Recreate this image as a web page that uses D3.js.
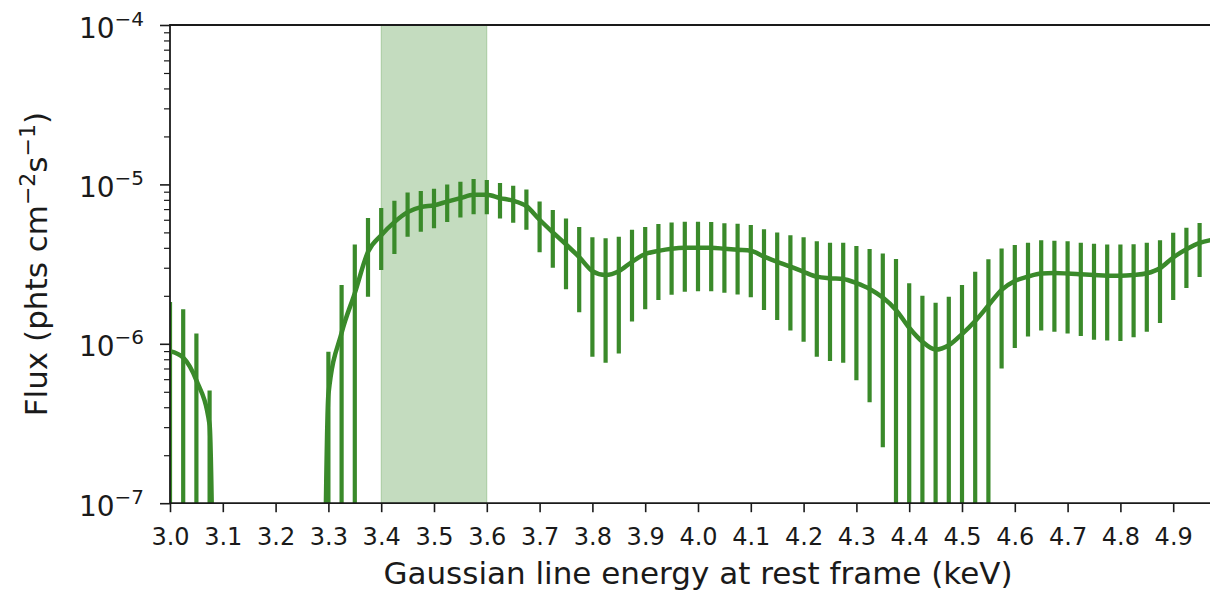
<!DOCTYPE html>
<html>
<head>
<meta charset="utf-8">
<script src="https://cdn.jsdelivr.net/npm/d3@7"></script>
<style>
  html, body { margin: 0; padding: 0; background: #fff; }
  svg { display: block; }
  text { font-family: "DejaVu Sans", sans-serif; fill: #1a1a1a; }
</style>
</head>
<body>
<svg id="chart" width="1210" height="593"></svg>
<script>
// Gaussian line energy grid (keV)
const energy = [
  3.000, 3.025, 3.050, 3.075, 3.100, 3.125, 3.150, 3.175, 3.200, 3.225,
  3.250, 3.275, 3.300, 3.325, 3.350, 3.375, 3.400, 3.425, 3.450, 3.475,
  3.500, 3.525, 3.550, 3.575, 3.600, 3.625, 3.650, 3.675, 3.700, 3.725,
  3.750, 3.775, 3.800, 3.825, 3.850, 3.875, 3.900, 3.925, 3.950, 3.975,
  4.000, 4.025, 4.050, 4.075, 4.100, 4.125, 4.150, 4.175, 4.200, 4.225,
  4.250, 4.275, 4.300, 4.325, 4.350, 4.375, 4.400, 4.425, 4.450, 4.475,
  4.500, 4.525, 4.550, 4.575, 4.600, 4.625, 4.650, 4.675, 4.700, 4.725,
  4.750, 4.775, 4.800, 4.825, 4.850, 4.875, 4.900, 4.925, 4.950, 4.975
];

// Best-fit line flux (phts cm^-2 s^-1); 0 = no positive flux
const flux = [
  9.0e-7, 8.2e-7, 5.9e-7, 3.1e-7, 0, 0, 0, 0, 0, 0,
  0, 0, 4.8e-7, 1.17e-6, 2.08e-6, 3.77e-6, 4.8e-6, 5.8e-6, 6.7e-6, 7.2e-6,
  7.4e-6, 7.8e-6, 8.2e-6, 8.6e-6, 8.6e-6, 8.2e-6, 7.9e-6, 7.3e-6, 6.0e-6, 5.0e-6,
  4.2e-6, 3.5e-6, 2.86e-6, 2.7e-6, 2.85e-6, 3.27e-6, 3.66e-6, 3.83e-6, 3.95e-6, 4.0e-6,
  4.0e-6, 4.0e-6, 3.95e-6, 3.89e-6, 3.84e-6, 3.52e-6, 3.27e-6, 3.05e-6, 2.83e-6, 2.64e-6,
  2.58e-6, 2.55e-6, 2.4e-6, 2.21e-6, 1.95e-6, 1.63e-6, 1.26e-6, 1.03e-6, 9.2e-7, 9.8e-7,
  1.15e-6, 1.39e-6, 1.74e-6, 2.18e-6, 2.48e-6, 2.64e-6, 2.76e-6, 2.78e-6, 2.76e-6, 2.73e-6,
  2.7e-6, 2.67e-6, 2.67e-6, 2.7e-6, 2.77e-6, 2.98e-6, 3.48e-6, 3.92e-6, 4.29e-6, 4.5e-6
];

// Lower end of each error bar
const fluxLo = [
  0, 0, 0, 0, 0, 0, 0, 0, 0, 0,
  0, 0, 0, 0, 0, 1.97e-6, 2.9e-6, 3.66e-6, 4.7e-6, 5.05e-6,
  5.3e-6, 5.8e-6, 6.2e-6, 6.5e-6, 6.5e-6, 6.1e-6, 5.75e-6, 5.2e-6, 3.75e-6, 3.0e-6,
  2.2e-6, 1.58e-6, 8.3e-7, 7.6e-7, 8.7e-7, 1.38e-6, 1.65e-6, 1.88e-6, 2.03e-6, 2.12e-6,
  2.14e-6, 2.14e-6, 2.09e-6, 2.04e-6, 1.96e-6, 1.63e-6, 1.41e-6, 1.21e-6, 1.03e-6, 8.3e-7,
  7.8e-7, 7.6e-7, 5.9e-7, 4.3e-7, 2.24e-7, 0, 0, 0, 0, 0,
  0, 0, 0, 7.0e-7, 9.4e-7, 1.11e-6, 1.21e-6, 1.19e-6, 1.16e-6, 1.12e-6,
  1.06e-6, 1.05e-6, 1.04e-6, 1.10e-6, 1.19e-6, 1.35e-6, 1.88e-6, 2.24e-6, 2.62e-6, 2.9e-6
];

// Upper end of each error bar
const fluxHi = [
  1.83e-6, 1.65e-6, 1.16e-6, 5.1e-7, 0, 0, 0, 0, 0, 0,
  0, 0, 8.9e-7, 2.34e-6, 4.2e-6, 6.15e-6, 7.1e-6, 7.9e-6, 8.9e-6, 9.1e-6,
  9.4e-6, 1.0e-5, 1.04e-5, 1.08e-5, 1.065e-5, 1.02e-5, 9.8e-6, 9.3e-6, 7.8e-6, 6.9e-6,
  6.1e-6, 5.4e-6, 4.66e-6, 4.6e-6, 4.7e-6, 5.2e-6, 5.4e-6, 5.65e-6, 5.77e-6, 5.84e-6,
  5.84e-6, 5.8e-6, 5.7e-6, 5.67e-6, 5.56e-6, 5.23e-6, 5.0e-6, 4.8e-6, 4.66e-6, 4.4e-6,
  4.3e-6, 4.3e-6, 4.1e-6, 3.93e-6, 3.68e-6, 3.4e-6, 2.4e-6, 2.0e-6, 1.81e-6, 1.97e-6,
  2.34e-6, 2.83e-6, 3.39e-6, 3.96e-6, 4.17e-6, 4.3e-6, 4.46e-6, 4.43e-6, 4.4e-6, 4.3e-6,
  4.24e-6, 4.2e-6, 4.2e-6, 4.22e-6, 4.3e-6, 4.46e-6, 4.98e-6, 5.35e-6, 5.73e-6, 5.9e-6
];

// Highlighted energy interval (keV)
const bandRange = [3.4, 3.6];

// Axis ticks
const xTicks = [3.0, 3.1, 3.2, 3.3, 3.4, 3.5, 3.6, 3.7, 3.8, 3.9,
                4.0, 4.1, 4.2, 4.3, 4.4, 4.5, 4.6, 4.7, 4.8, 4.9];
const yTickExps = [-7, -6, -5, -4];

const xLabel = "Gaussian line energy at rest frame (keV)";

(function draw() {
  const svg = d3.select("#chart");
  const pl = 170, pt = 25, pb = 503.2, pr = 1226;
  const GREEN = "#3a8a2a";
  const FLOOR = 1e-12; // stand-in for non-positive values on the log axis
  const axisColor = "#1a1a1a";

  const x = d3.scaleLinear().domain([3.0, 5.0]).range([pl, pr]);
  const y = d3.scaleLog().domain([1e-7, 1e-4]).range([pb, pt]);
  const yv = v => y(Math.max(v, FLOOR));

  svg.append("defs").append("clipPath").attr("id", "plot-clip")
    .append("rect").attr("x", pl).attr("y", pt)
    .attr("width", pr - pl).attr("height", pb - pt);

  const plot = svg.append("g").attr("clip-path", "url(#plot-clip)");

  // shaded interval
  plot.append("rect")
    .attr("x", x(bandRange[0])).attr("y", pt)
    .attr("width", x(bandRange[1]) - x(bandRange[0]))
    .attr("height", pb - pt)
    .attr("fill", GREEN).attr("fill-opacity", 0.3)
    .attr("stroke", GREEN).attr("stroke-opacity", 0.3).attr("stroke-width", 1);

  const pts = energy.map((e, i) => ({ e, f: flux[i], lo: fluxLo[i], hi: fluxHi[i] }));

  // error bars
  plot.selectAll("line.err")
    .data(pts.filter(d => d.hi > 0))
    .join("line")
    .attr("class", "err")
    .attr("x1", d => x(d.e)).attr("x2", d => x(d.e))
    .attr("y1", d => yv(d.lo)).attr("y2", d => yv(d.hi))
    .attr("stroke", GREEN).attr("stroke-width", 4.2);

  // best-fit flux curve
  const line = d3.line()
    .x(d => x(d.e))
    .y(d => yv(d.f))
    .curve(d3.curveMonotoneX);

  plot.append("path")
    .datum(pts)
    .attr("d", line)
    .attr("fill", "none")
    .attr("stroke", GREEN)
    .attr("stroke-width", 4.5)
    .attr("stroke-linejoin", "round");

  // spines
  svg.append("line").attr("x1", pl).attr("x2", pr).attr("y1", pt).attr("y2", pt)
    .attr("stroke", axisColor).attr("stroke-width", 1.8);
  svg.append("line").attr("x1", pl).attr("x2", pr).attr("y1", pb).attr("y2", pb)
    .attr("stroke", axisColor).attr("stroke-width", 1.8);
  svg.append("line").attr("x1", pl).attr("x2", pl).attr("y1", pt - 0.9).attr("y2", pb + 0.9)
    .attr("stroke", axisColor).attr("stroke-width", 1.8);

  // x axis
  const xAxis = d3.axisBottom(x)
    .tickValues(xTicks)
    .tickSize(9)
    .tickPadding(4)
    .tickFormat(d3.format(".1f"));
  const gx = svg.append("g").attr("transform", `translate(0,${pb})`).call(xAxis);
  gx.select(".domain").remove();
  gx.selectAll(".tick line").attr("stroke", axisColor).attr("stroke-width", 1.6);
  gx.selectAll(".tick text")
    .attr("font-family", "DejaVu Sans").attr("font-size", 24).attr("fill", axisColor)
    .attr("dy", null).attr("y", 42);

  // y axis minor ticks from the log scale
  const minor = y.ticks().filter(v => {
    const m = v / Math.pow(10, Math.floor(Math.log10(v) + 1e-9));
    return Math.abs(m - 1) > 1e-6;
  });
  const gy = svg.append("g").attr("transform", `translate(${pl},0)`);
  gy.call(d3.axisLeft(y).tickValues(minor).tickSize(6).tickFormat(""));
  gy.select(".domain").remove();
  gy.selectAll(".tick line").attr("stroke", axisColor).attr("stroke-width", 1.2);

  const gyMaj = svg.append("g").attr("transform", `translate(${pl},0)`);
  gyMaj.call(d3.axisLeft(y).tickValues(yTickExps.map(p => Math.pow(10, p))).tickSize(10).tickFormat(""));
  gyMaj.select(".domain").remove();
  gyMaj.selectAll(".tick line").attr("stroke", axisColor).attr("stroke-width", 1.6);

  // power-of-ten labels
  const yLab = svg.append("g");
  yTickExps.forEach(p => {
    const ty = y(Math.pow(10, p));
    const t = yLab.append("text")
      .attr("x", 144).attr("y", ty + 12.5)
      .attr("text-anchor", "end")
      .attr("font-size", 28);
    t.append("tspan").text("10");
    t.append("tspan").attr("dy", -12).attr("font-size", 20).text("\u2212" + Math.abs(p));
  });

  // x axis title
  svg.append("text")
    .attr("x", (pl + pr) / 2).attr("y", 584)
    .attr("text-anchor", "middle")
    .attr("font-size", 31)
    .text(xLabel);

  // y axis title with superscripts
  const yt = svg.append("text")
    .attr("transform", `translate(47,${(pt + pb) / 2}) rotate(-90)`)
    .attr("text-anchor", "middle")
    .attr("font-size", 31);
  yt.append("tspan").text("Flux (phts cm");
  yt.append("tspan").attr("dy", -12).attr("font-size", 22).text("\u22122");
  yt.append("tspan").attr("dy", 12).text("s");
  yt.append("tspan").attr("dy", -12).attr("font-size", 22).text("\u22121");
  yt.append("tspan").attr("dy", 12).text(")");
})();
</script>
</body>
</html>
